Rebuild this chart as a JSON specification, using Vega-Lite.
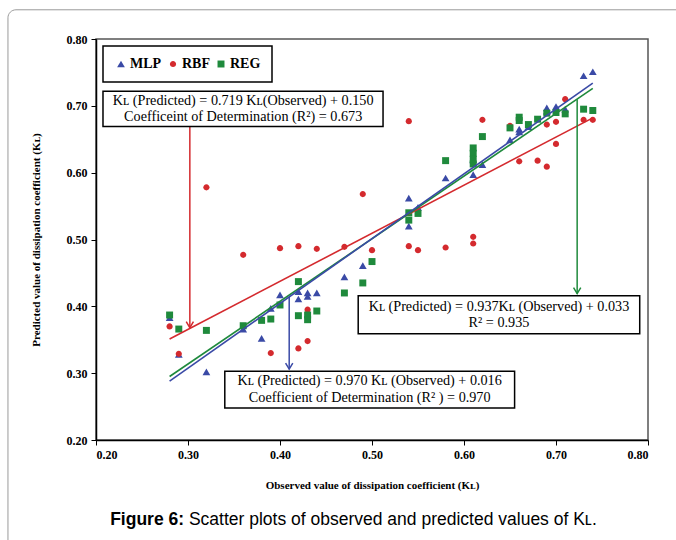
{
  "$schema": "https://vega.github.io/schema/vega-lite/v6.json",
  "width": 552,
  "height": 401,
  "autosize": "none",
  "padding": {"left": 96, "top": 39, "right": 28, "bottom": 100},
  "background": "white",
  "data": {"values": [{}]},
  "config": {
    "view": {"stroke": "#555555", "strokeWidth": 1.5},
    "axis": {"grid": false, "domainColor": "black", "domainWidth": 1.5, "tickColor": "black", "tickSize": 5, "labelColor": "black", "labelFont": "Liberation Serif", "labelFontWeight": "bold", "labelFontSize": 12, "titleFont": "Liberation Serif", "titleFontWeight": "bold", "titleFontSize": 11, "titleColor": "black"},
    "legend": {"strokeColor": "black", "strokeWidth": 1.5, "fillColor": "white"}
  },
  "datasets": {
    "points": [
      {"model": "MLP", "observed": 0.28, "predicted": 0.383},
      {"model": "MLP", "observed": 0.29, "predicted": 0.328},
      {"model": "MLP", "observed": 0.32, "predicted": 0.302},
      {"model": "MLP", "observed": 0.36, "predicted": 0.366},
      {"model": "MLP", "observed": 0.38, "predicted": 0.352},
      {"model": "MLP", "observed": 0.39, "predicted": 0.397},
      {"model": "MLP", "observed": 0.40, "predicted": 0.417},
      {"model": "MLP", "observed": 0.42, "predicted": 0.422},
      {"model": "MLP", "observed": 0.42, "predicted": 0.411},
      {"model": "MLP", "observed": 0.43, "predicted": 0.420},
      {"model": "MLP", "observed": 0.43, "predicted": 0.415},
      {"model": "MLP", "observed": 0.44, "predicted": 0.420},
      {"model": "MLP", "observed": 0.47, "predicted": 0.444},
      {"model": "MLP", "observed": 0.49, "predicted": 0.461},
      {"model": "MLP", "observed": 0.54, "predicted": 0.562},
      {"model": "MLP", "observed": 0.54, "predicted": 0.520},
      {"model": "MLP", "observed": 0.55, "predicted": 0.548},
      {"model": "MLP", "observed": 0.58, "predicted": 0.592},
      {"model": "MLP", "observed": 0.61, "predicted": 0.597},
      {"model": "MLP", "observed": 0.61, "predicted": 0.619},
      {"model": "MLP", "observed": 0.62, "predicted": 0.612},
      {"model": "MLP", "observed": 0.65, "predicted": 0.649},
      {"model": "MLP", "observed": 0.66, "predicted": 0.665},
      {"model": "MLP", "observed": 0.66, "predicted": 0.661},
      {"model": "MLP", "observed": 0.67, "predicted": 0.669},
      {"model": "MLP", "observed": 0.69, "predicted": 0.697},
      {"model": "MLP", "observed": 0.69, "predicted": 0.692},
      {"model": "MLP", "observed": 0.70, "predicted": 0.699},
      {"model": "MLP", "observed": 0.71, "predicted": 0.695},
      {"model": "MLP", "observed": 0.73, "predicted": 0.745},
      {"model": "MLP", "observed": 0.74, "predicted": 0.751},
      {"model": "RBF", "observed": 0.28, "predicted": 0.370},
      {"model": "RBF", "observed": 0.29, "predicted": 0.329},
      {"model": "RBF", "observed": 0.32, "predicted": 0.578},
      {"model": "RBF", "observed": 0.36, "predicted": 0.477},
      {"model": "RBF", "observed": 0.39, "predicted": 0.330},
      {"model": "RBF", "observed": 0.40, "predicted": 0.487},
      {"model": "RBF", "observed": 0.42, "predicted": 0.490},
      {"model": "RBF", "observed": 0.42, "predicted": 0.337},
      {"model": "RBF", "observed": 0.43, "predicted": 0.395},
      {"model": "RBF", "observed": 0.43, "predicted": 0.348},
      {"model": "RBF", "observed": 0.44, "predicted": 0.486},
      {"model": "RBF", "observed": 0.47, "predicted": 0.489},
      {"model": "RBF", "observed": 0.49, "predicted": 0.568},
      {"model": "RBF", "observed": 0.50, "predicted": 0.484},
      {"model": "RBF", "observed": 0.54, "predicted": 0.677},
      {"model": "RBF", "observed": 0.54, "predicted": 0.490},
      {"model": "RBF", "observed": 0.55, "predicted": 0.484},
      {"model": "RBF", "observed": 0.58, "predicted": 0.488},
      {"model": "RBF", "observed": 0.61, "predicted": 0.504},
      {"model": "RBF", "observed": 0.61, "predicted": 0.494},
      {"model": "RBF", "observed": 0.62, "predicted": 0.679},
      {"model": "RBF", "observed": 0.65, "predicted": 0.670},
      {"model": "RBF", "observed": 0.66, "predicted": 0.679},
      {"model": "RBF", "observed": 0.66, "predicted": 0.617},
      {"model": "RBF", "observed": 0.68, "predicted": 0.618},
      {"model": "RBF", "observed": 0.69, "predicted": 0.609},
      {"model": "RBF", "observed": 0.69, "predicted": 0.672},
      {"model": "RBF", "observed": 0.70, "predicted": 0.643},
      {"model": "RBF", "observed": 0.70, "predicted": 0.676},
      {"model": "RBF", "observed": 0.71, "predicted": 0.710},
      {"model": "RBF", "observed": 0.73, "predicted": 0.679},
      {"model": "RBF", "observed": 0.74, "predicted": 0.679},
      {"model": "REG", "observed": 0.28, "predicted": 0.387},
      {"model": "REG", "observed": 0.29, "predicted": 0.366},
      {"model": "REG", "observed": 0.32, "predicted": 0.364},
      {"model": "REG", "observed": 0.36, "predicted": 0.371},
      {"model": "REG", "observed": 0.38, "predicted": 0.379},
      {"model": "REG", "observed": 0.39, "predicted": 0.381},
      {"model": "REG", "observed": 0.40, "predicted": 0.402},
      {"model": "REG", "observed": 0.42, "predicted": 0.437},
      {"model": "REG", "observed": 0.42, "predicted": 0.386},
      {"model": "REG", "observed": 0.43, "predicted": 0.387},
      {"model": "REG", "observed": 0.43, "predicted": 0.380},
      {"model": "REG", "observed": 0.44, "predicted": 0.393},
      {"model": "REG", "observed": 0.47, "predicted": 0.420},
      {"model": "REG", "observed": 0.49, "predicted": 0.435},
      {"model": "REG", "observed": 0.50, "predicted": 0.467},
      {"model": "REG", "observed": 0.54, "predicted": 0.540},
      {"model": "REG", "observed": 0.54, "predicted": 0.529},
      {"model": "REG", "observed": 0.55, "predicted": 0.539},
      {"model": "REG", "observed": 0.58, "predicted": 0.618},
      {"model": "REG", "observed": 0.61, "predicted": 0.637},
      {"model": "REG", "observed": 0.61, "predicted": 0.629},
      {"model": "REG", "observed": 0.61, "predicted": 0.620},
      {"model": "REG", "observed": 0.61, "predicted": 0.613},
      {"model": "REG", "observed": 0.62, "predicted": 0.654},
      {"model": "REG", "observed": 0.65, "predicted": 0.667},
      {"model": "REG", "observed": 0.66, "predicted": 0.683},
      {"model": "REG", "observed": 0.66, "predicted": 0.678},
      {"model": "REG", "observed": 0.67, "predicted": 0.672},
      {"model": "REG", "observed": 0.68, "predicted": 0.680},
      {"model": "REG", "observed": 0.69, "predicted": 0.689},
      {"model": "REG", "observed": 0.70, "predicted": 0.690},
      {"model": "REG", "observed": 0.71, "predicted": 0.688},
      {"model": "REG", "observed": 0.73, "predicted": 0.695},
      {"model": "REG", "observed": 0.74, "predicted": 0.693}
    ],
    "fits": [
      {"model": "MLP", "observed": 0.28, "predicted": 0.288},
      {"model": "MLP", "observed": 0.74, "predicted": 0.734},
      {"model": "RBF", "observed": 0.28, "predicted": 0.351},
      {"model": "RBF", "observed": 0.74, "predicted": 0.682},
      {"model": "REG", "observed": 0.28, "predicted": 0.295},
      {"model": "REG", "observed": 0.74, "predicted": 0.726}
    ]
  },
  "layer": [
    {
      "mark": {"type": "rect", "fill": "white", "fillOpacity": 0, "stroke": "#9a9a9a", "strokeWidth": 1, "cornerRadius": 8, "clip": false},
      "encoding": {
        "x": {"datum": 0.1043, "type": "quantitative"}, "x2": {"datum": 0.8565},
        "y": {"datum": 0.8437, "type": "quantitative"}, "y2": {"datum": 0.02}
      }
    },
    {
      "data": {"name": "points"},
      "mark": {"type": "point", "filled": true, "opacity": 1, "size": 60},
      "encoding": {
        "x": {"field": "observed", "type": "quantitative", "scale": {"domain": [0.2, 0.8], "nice": false, "zero": false},
              "axis": {"values": [0.2, 0.3, 0.4, 0.5, 0.6, 0.7, 0.8], "format": ".2f", "title": "Observed value of dissipation coefficient (Kʟ)", "titlePadding": 19, "labelPadding": 4}},
        "y": {"field": "predicted", "type": "quantitative", "scale": {"domain": [0.2, 0.8], "nice": false, "zero": false},
              "axis": {"values": [0.2, 0.3, 0.4, 0.5, 0.6, 0.7, 0.8], "format": ".2f", "title": "Predicted value of dissipation coefficient (Kʟ)", "titlePadding": 25, "labelPadding": 4}},
        "color": {"field": "model", "type": "nominal", "scale": {"domain": ["MLP", "RBF", "REG"], "range": ["#3a4aa6", "#d42a2e", "#1f8a3c"]},
                  "legend": {"title": null, "orient": "top-left", "offset": 7, "direction": "horizontal", "padding": 11, "labelFont": "Liberation Serif", "labelFontWeight": "bold", "labelFontSize": 14, "labelColor": "black", "symbolSize": 60, "columnPadding": 4, "labelOffset": 2}},
        "shape": {"field": "model", "type": "nominal", "scale": {"domain": ["MLP", "RBF", "REG"], "range": ["triangle-up", "M-0.8,0A0.8,0.8 0 1,0 0.8,0A0.8,0.8 0 1,0 -0.8,0Z", "M-0.9,-0.9L0.9,-0.9L0.9,0.9L-0.9,0.9Z"]}}
      }
    },
    {
      "data": {"name": "fits"},
      "transform": [{"filter": "datum.model === 'RBF'"}],
      "mark": {"type": "line", "color": "#d42a2e", "strokeWidth": 1.6},
      "encoding": {"x": {"field": "observed", "type": "quantitative"}, "y": {"field": "predicted", "type": "quantitative"}}
    },
    {
      "data": {"name": "fits"},
      "transform": [{"filter": "datum.model === 'REG'"}],
      "mark": {"type": "line", "color": "#1f8a3c", "strokeWidth": 1.6},
      "encoding": {"x": {"field": "observed", "type": "quantitative"}, "y": {"field": "predicted", "type": "quantitative"}}
    },
    {
      "data": {"name": "fits"},
      "transform": [{"filter": "datum.model === 'MLP'"}],
      "mark": {"type": "line", "color": "#3a4aa6", "strokeWidth": 1.6},
      "encoding": {"x": {"field": "observed", "type": "quantitative"}, "y": {"field": "predicted", "type": "quantitative"}}
    },
    {
      "mark": {"type": "rule", "color": "#d42a2e", "strokeWidth": 1.5},
      "encoding": {"x": {"datum": 0.302, "type": "quantitative"}, "y": {"datum": 0.669, "type": "quantitative"}, "y2": {"datum": 0.368}}
    },
    {
      "mark": {"type": "point", "shape": "M-0.6,-1L0,0L0.6,-1", "filled": false, "size": 144, "color": "#d42a2e", "strokeWidth": 1.5, "opacity": 1},
      "encoding": {"x": {"datum": 0.302, "type": "quantitative"}, "y": {"datum": 0.368, "type": "quantitative"}}
    },
    {
      "mark": {"type": "rule", "color": "#3a4aa6", "strokeWidth": 1.5},
      "encoding": {"x": {"datum": 0.41, "type": "quantitative"}, "y": {"datum": 0.414, "type": "quantitative"}, "y2": {"datum": 0.306}}
    },
    {
      "mark": {"type": "point", "shape": "M-0.6,-1L0,0L0.6,-1", "filled": false, "size": 144, "color": "#3a4aa6", "strokeWidth": 1.5, "opacity": 1},
      "encoding": {"x": {"datum": 0.41, "type": "quantitative"}, "y": {"datum": 0.306, "type": "quantitative"}}
    },
    {
      "mark": {"type": "rule", "color": "#1f8a3c", "strokeWidth": 1.5},
      "encoding": {"x": {"datum": 0.723, "type": "quantitative"}, "y": {"datum": 0.710, "type": "quantitative"}, "y2": {"datum": 0.419}}
    },
    {
      "mark": {"type": "point", "shape": "M-0.6,-1L0,0L0.6,-1", "filled": false, "size": 144, "color": "#1f8a3c", "strokeWidth": 1.5, "opacity": 1},
      "encoding": {"x": {"datum": 0.723, "type": "quantitative"}, "y": {"datum": 0.419, "type": "quantitative"}}
    },
    {
      "mark": {"type": "rect", "fill": "white", "stroke": "black", "strokeWidth": 1.5},
      "encoding": {"x": {"datum": 0.2076, "type": "quantitative"}, "x2": {"datum": 0.512}, "y": {"datum": 0.722, "type": "quantitative"}, "y2": {"datum": 0.669}}
    },
    {
      "mark": {"type": "rect", "fill": "white", "stroke": "black", "strokeWidth": 1.5},
      "encoding": {"x": {"datum": 0.340, "type": "quantitative"}, "x2": {"datum": 0.655}, "y": {"datum": 0.303, "type": "quantitative"}, "y2": {"datum": 0.248}}
    },
    {
      "mark": {"type": "rect", "fill": "white", "stroke": "black", "strokeWidth": 1.5},
      "encoding": {"x": {"datum": 0.485, "type": "quantitative"}, "x2": {"datum": 0.791}, "y": {"datum": 0.416, "type": "quantitative"}, "y2": {"datum": 0.359}}
    },
    {
      "mark": {"type": "text", "text": "Kʟ (Predicted) = 0.719 Kʟ(Observed) + 0.150", "font": "Liberation Serif", "fontSize": 14.2, "color": "black", "baseline": "middle"},
      "encoding": {"x": {"datum": 0.36, "type": "quantitative"}, "y": {"datum": 0.7075, "type": "quantitative"}}
    },
    {
      "mark": {"type": "text", "text": "Coefficeint of Determination (R²) = 0.673", "font": "Liberation Serif", "fontSize": 14.2, "color": "black", "baseline": "middle"},
      "encoding": {"x": {"datum": 0.36, "type": "quantitative"}, "y": {"datum": 0.683, "type": "quantitative"}}
    },
    {
      "mark": {"type": "text", "text": "Kʟ (Predicted)  = 0.970 Kʟ (Observed) + 0.016", "font": "Liberation Serif", "fontSize": 14.2, "color": "black", "baseline": "middle"},
      "encoding": {"x": {"datum": 0.4975, "type": "quantitative"}, "y": {"datum": 0.2885, "type": "quantitative"}}
    },
    {
      "mark": {"type": "text", "text": "Coefficient of Determination (R² ) = 0.970", "font": "Liberation Serif", "fontSize": 14.2, "color": "black", "baseline": "middle"},
      "encoding": {"x": {"datum": 0.4975, "type": "quantitative"}, "y": {"datum": 0.263, "type": "quantitative"}}
    },
    {
      "mark": {"type": "text", "text": "Kʟ (Predicted) = 0.937Kʟ (Observed) + 0.033", "font": "Liberation Serif", "fontSize": 14.2, "color": "black", "baseline": "middle"},
      "encoding": {"x": {"datum": 0.638, "type": "quantitative"}, "y": {"datum": 0.3995, "type": "quantitative"}}
    },
    {
      "mark": {"type": "text", "text": "R² = 0.935", "font": "Liberation Serif", "fontSize": 14.2, "color": "black", "baseline": "middle"},
      "encoding": {"x": {"datum": 0.638, "type": "quantitative"}, "y": {"datum": 0.375, "type": "quantitative"}}
    },
    {
      "mark": {"type": "text", "text": "Figure 6:", "font": "Liberation Sans", "fontWeight": "bold", "fontSize": 17.5, "color": "black", "align": "right", "baseline": "middle"},
      "encoding": {"x": {"datum": 0.2957, "type": "quantitative"}, "y": {"datum": 0.08, "type": "quantitative"}}
    },
    {
      "mark": {"type": "text", "text": "Scatter plots of observed and predicted values of Kʟ.", "font": "Liberation Sans", "fontSize": 17.5, "color": "black", "align": "left", "baseline": "middle"},
      "encoding": {"x": {"datum": 0.301, "type": "quantitative"}, "y": {"datum": 0.08, "type": "quantitative"}}
    }
  ]
}
